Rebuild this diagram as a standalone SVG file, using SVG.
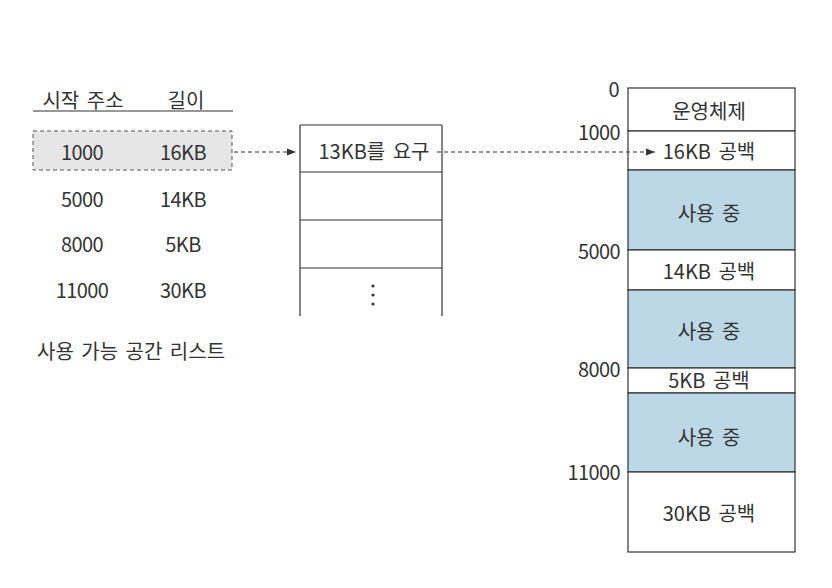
<svg xmlns="http://www.w3.org/2000/svg" width="832" height="588" viewBox="0 0 832 588">
<defs>
<style>
text{font-family:"Noto Sans CJK KR","Liberation Sans",sans-serif;font-size:20px;fill:#333;dominant-baseline:central;word-spacing:3px}
.c{text-anchor:middle}
.r{text-anchor:end}
.n{letter-spacing:-0.6px}
.box{fill:#fff;stroke:#333;stroke-width:1.2}
.used{fill:#bcd7e6;stroke:#333;stroke-width:1.2}
.dash{fill:none;stroke:#333;stroke-width:1;stroke-dasharray:4 3}
.line{stroke:#333;stroke-width:1.2;fill:none}
</style>
<marker id="ah" viewBox="0 0 10 10" refX="10" refY="5" markerWidth="9" markerHeight="9" markerUnits="userSpaceOnUse" orient="auto">
<path d="M0,1 L10,5 L0,9 z" fill="#333"/>
</marker>
</defs>
<rect width="832" height="588" fill="#fff"/>

<g id="free-list">
<text class="c" x="83" y="99">시작 주소</text>
<text class="c" x="186" y="99">길이</text>
<line class="line" x1="33" y1="111" x2="233" y2="111"/>
<rect x="33" y="131" width="199" height="39" fill="#e6e6e6" stroke="#555" stroke-width="1" stroke-dasharray="4 3"/>
<text class="c n" x="82" y="151">1000</text>
<text class="c n" x="183" y="151">16KB</text>
<text class="c n" x="82" y="198">5000</text>
<text class="c n" x="183" y="198">14KB</text>
<text class="c n" x="82" y="243">8000</text>
<text class="c n" x="183" y="243">5KB</text>
<text class="c n" x="82" y="289">11000</text>
<text class="c n" x="183" y="289">30KB</text>
<text x="37" y="350">사용 가능 공간 리스트</text>
</g>

<g id="request-queue">
<line class="line" x1="300" y1="125" x2="442" y2="125"/>
<line class="line" x1="300" y1="172" x2="442" y2="172"/>
<line class="line" x1="300" y1="220" x2="442" y2="220"/>
<line class="line" x1="300" y1="268" x2="442" y2="268"/>
<line class="line" x1="300" y1="125" x2="300" y2="316"/>
<line class="line" x1="442" y1="125" x2="442" y2="316"/>
<text class="c" x="374" y="150">13KB를 요구</text>
<circle cx="373" cy="286" r="1.6" fill="#333"/>
<circle cx="373" cy="295" r="1.6" fill="#333"/>
<circle cx="373" cy="304" r="1.6" fill="#333"/>
</g>

<g id="memory">
<rect class="box" x="628" y="88" width="167" height="43"/>
<rect class="box" x="628" y="131" width="167" height="39"/>
<rect class="used" x="628" y="170" width="167" height="80"/>
<rect class="box" x="628" y="250" width="167" height="40"/>
<rect class="used" x="628" y="290" width="167" height="78"/>
<rect class="box" x="628" y="368" width="167" height="25"/>
<rect class="used" x="628" y="393" width="167" height="79"/>
<rect class="box" x="628" y="472" width="167" height="80"/>
<text class="c" x="709" y="110">운영체제</text>
<text class="c" x="709" y="150">16KB 공백</text>
<text class="c" x="709" y="212">사용 중</text>
<text class="c" x="709" y="270">14KB 공백</text>
<text class="c" x="709" y="330">사용 중</text>
<text class="c" x="709" y="379">5KB 공백</text>
<text class="c" x="709" y="436">사용 중</text>
<text class="c" x="709" y="512">30KB 공백</text>
<text class="r n" x="619" y="88">0</text>
<text class="r n" x="620" y="131">1000</text>
<text class="r n" x="620" y="250">5000</text>
<text class="r n" x="620" y="368">8000</text>
<text class="r n" x="620" y="471">11000</text>
</g>

<g id="connectors">
<line class="dash" x1="234" y1="152" x2="296" y2="152" marker-end="url(#ah)"/>
<line class="dash" x1="437" y1="152" x2="655" y2="152" marker-end="url(#ah)"/>
</g>
</svg>
